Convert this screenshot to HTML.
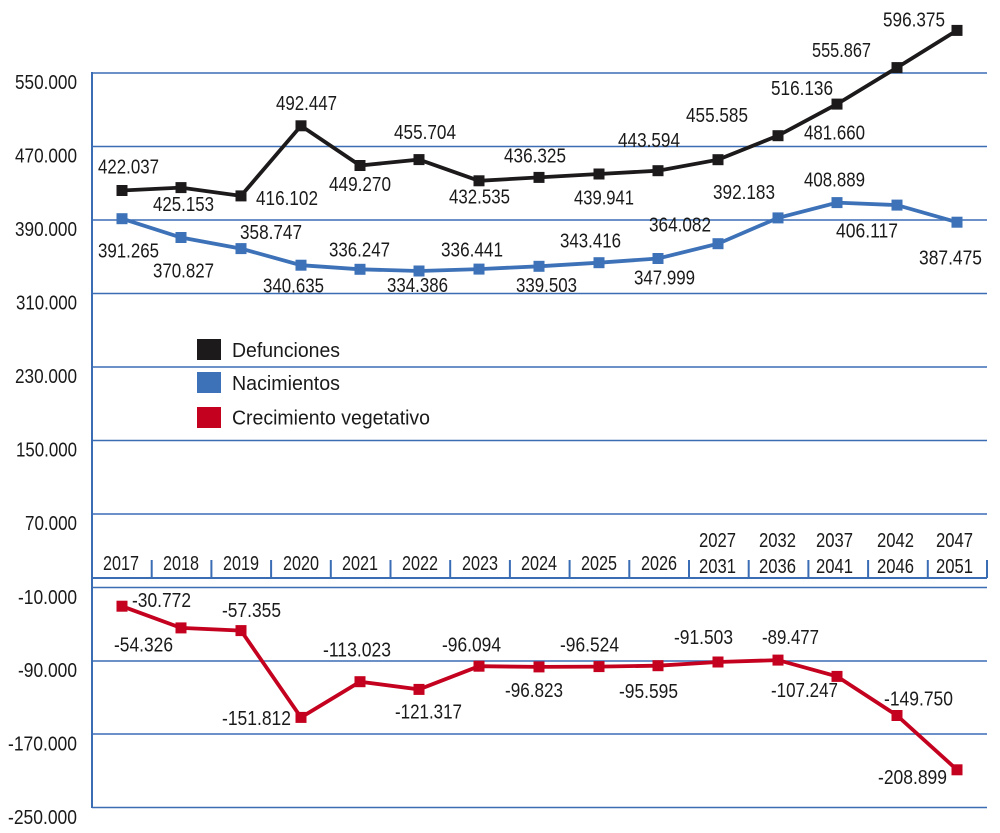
<!DOCTYPE html>
<html><head><meta charset="utf-8"><style>
html,body{margin:0;padding:0;background:#fff;}
svg{display:block;}
text{font-family:"Liberation Sans Narrow","Liberation Sans",sans-serif;font-size:20px;fill:#1a1a1a;}
</style></head><body>
<svg width="1000" height="833" viewBox="0 0 1000 833" xmlns="http://www.w3.org/2000/svg">
<g stroke="#3b6db5" stroke-width="1.6" fill="none">
<line x1="92" y1="73" x2="987" y2="73"/>
<line x1="92" y1="146.5" x2="987" y2="146.5"/>
<line x1="92" y1="220" x2="987" y2="220"/>
<line x1="92" y1="293.5" x2="987" y2="293.5"/>
<line x1="92" y1="367" x2="987" y2="367"/>
<line x1="92" y1="440.5" x2="987" y2="440.5"/>
<line x1="92" y1="514" x2="987" y2="514"/>
<line x1="92" y1="587.5" x2="987" y2="587.5"/>
<line x1="92" y1="661" x2="987" y2="661"/>
<line x1="92" y1="734" x2="987" y2="734"/>
<line x1="92" y1="807.5" x2="987" y2="807.5"/>
<line x1="92" y1="578" x2="987" y2="578" stroke-width="2"/>
<line x1="92" y1="72" x2="92" y2="808" stroke-width="2"/>
<path d="M151.7 560V578M211.4 560V578M271.1 560V578M330.8 560V578M390.5 560V578M450.2 560V578M509.9 560V578M569.6 560V578M629.3 560V578M689 560V578M748.7 560V578M808.4 560V578M868.1 560V578M927.8 560V578M987 560V578" stroke-width="2"/>
</g>

<!-- Y axis labels -->
<g>
<text x="15" y="89" textLength="62" lengthAdjust="spacingAndGlyphs">550.000</text>
<text x="15" y="162.5" textLength="62" lengthAdjust="spacingAndGlyphs">470.000</text>
<text x="15" y="236" textLength="62" lengthAdjust="spacingAndGlyphs">390.000</text>
<text x="16" y="309.5" textLength="61" lengthAdjust="spacingAndGlyphs">310.000</text>
<text x="15" y="383" textLength="62" lengthAdjust="spacingAndGlyphs">230.000</text>
<text x="16" y="456.5" textLength="61" lengthAdjust="spacingAndGlyphs">150.000</text>
<text x="25" y="530" textLength="52" lengthAdjust="spacingAndGlyphs">70.000</text>
<text x="18" y="604" textLength="59" lengthAdjust="spacingAndGlyphs">-10.000</text>
<text x="18" y="677" textLength="59" lengthAdjust="spacingAndGlyphs">-90.000</text>
<text x="8" y="750.5" textLength="69" lengthAdjust="spacingAndGlyphs">-170.000</text>
<text x="8" y="824" textLength="69" lengthAdjust="spacingAndGlyphs">-250.000</text>
</g>

<!-- Category labels -->
<g>
<text x="103" y="570" textLength="36" lengthAdjust="spacingAndGlyphs">2017</text>
<text x="163" y="570" textLength="36" lengthAdjust="spacingAndGlyphs">2018</text>
<text x="223" y="570" textLength="36" lengthAdjust="spacingAndGlyphs">2019</text>
<text x="283" y="570" textLength="36" lengthAdjust="spacingAndGlyphs">2020</text>
<text x="342" y="570" textLength="36" lengthAdjust="spacingAndGlyphs">2021</text>
<text x="402" y="570" textLength="36" lengthAdjust="spacingAndGlyphs">2022</text>
<text x="462" y="570" textLength="36" lengthAdjust="spacingAndGlyphs">2023</text>
<text x="521" y="570" textLength="36" lengthAdjust="spacingAndGlyphs">2024</text>
<text x="581" y="570" textLength="36" lengthAdjust="spacingAndGlyphs">2025</text>
<text x="641" y="570" textLength="36" lengthAdjust="spacingAndGlyphs">2026</text>
<text x="699" y="547" textLength="37" lengthAdjust="spacingAndGlyphs">2027</text>
<text x="699" y="573" textLength="37" lengthAdjust="spacingAndGlyphs">2031</text>
<text x="759" y="547" textLength="37" lengthAdjust="spacingAndGlyphs">2032</text>
<text x="759" y="573" textLength="37" lengthAdjust="spacingAndGlyphs">2036</text>
<text x="816" y="547" textLength="37" lengthAdjust="spacingAndGlyphs">2037</text>
<text x="816" y="573" textLength="37" lengthAdjust="spacingAndGlyphs">2041</text>
<text x="877" y="547" textLength="37" lengthAdjust="spacingAndGlyphs">2042</text>
<text x="877" y="573" textLength="37" lengthAdjust="spacingAndGlyphs">2046</text>
<text x="936" y="547" textLength="37" lengthAdjust="spacingAndGlyphs">2047</text>
<text x="936" y="573" textLength="37" lengthAdjust="spacingAndGlyphs">2051</text>
</g>

<!-- Series: Defunciones -->
<polyline fill="none" stroke="#1c1a1b" stroke-width="3.8" stroke-linejoin="miter" points="122,190.5 181,187.6 241,195.9 301,125.8 360,165.5 419,159.6 479,180.8 539,177.4 599,174 658,170.7 718,159.7 778,135.7 837,104.1 897,67.6 957,30.4"/>
<g fill="#1c1a1b">
<rect x="116.5" y="185" width="11" height="11"/>
<rect x="175.5" y="182.1" width="11" height="11"/>
<rect x="235.5" y="190.4" width="11" height="11"/>
<rect x="295.5" y="120.3" width="11" height="11"/>
<rect x="354.5" y="160" width="11" height="11"/>
<rect x="413.5" y="154.1" width="11" height="11"/>
<rect x="473.5" y="175.3" width="11" height="11"/>
<rect x="533.5" y="171.9" width="11" height="11"/>
<rect x="593.5" y="168.5" width="11" height="11"/>
<rect x="652.5" y="165.2" width="11" height="11"/>
<rect x="712.5" y="154.2" width="11" height="11"/>
<rect x="772.5" y="130.2" width="11" height="11"/>
<rect x="831.5" y="98.6" width="11" height="11"/>
<rect x="891.5" y="62.1" width="11" height="11"/>
<rect x="951.5" y="24.9" width="11" height="11"/>
</g>

<!-- Series: Nacimientos -->
<polyline fill="none" stroke="#3e72b8" stroke-width="3.8" points="122,218.7 181,237.5 241,248.6 301,265.2 360,269.3 419,271 479,269.1 539,266.3 599,262.7 658,258.5 718,243.7 778,217.9 837,202.6 897,205.1 957,222.2"/>
<g fill="#3e72b8">
<rect x="116.5" y="213.2" width="11" height="11"/>
<rect x="175.5" y="232" width="11" height="11"/>
<rect x="235.5" y="243.1" width="11" height="11"/>
<rect x="295.5" y="259.7" width="11" height="11"/>
<rect x="354.5" y="263.8" width="11" height="11"/>
<rect x="413.5" y="265.5" width="11" height="11"/>
<rect x="473.5" y="263.6" width="11" height="11"/>
<rect x="533.5" y="260.8" width="11" height="11"/>
<rect x="593.5" y="257.2" width="11" height="11"/>
<rect x="652.5" y="253" width="11" height="11"/>
<rect x="712.5" y="238.2" width="11" height="11"/>
<rect x="772.5" y="212.4" width="11" height="11"/>
<rect x="831.5" y="197.1" width="11" height="11"/>
<rect x="891.5" y="199.6" width="11" height="11"/>
<rect x="951.5" y="216.7" width="11" height="11"/>
</g>

<!-- Series: Crecimiento vegetativo -->
<polyline fill="none" stroke="#c4021f" stroke-width="3.8" points="122,606.2 181,627.9 241,630.6 301,717.4 360,681.7 419,689.4 479,666.2 539,666.9 599,666.6 658,665.7 718,662 778,660.1 837,676.4 897,715.5 957,769.8"/>
<g fill="#c4021f">
<rect x="116.5" y="600.7" width="11" height="11"/>
<rect x="175.5" y="622.4" width="11" height="11"/>
<rect x="235.5" y="625.1" width="11" height="11"/>
<rect x="295.5" y="711.9" width="11" height="11"/>
<rect x="354.5" y="676.2" width="11" height="11"/>
<rect x="413.5" y="683.9" width="11" height="11"/>
<rect x="473.5" y="660.7" width="11" height="11"/>
<rect x="533.5" y="661.4" width="11" height="11"/>
<rect x="593.5" y="661.1" width="11" height="11"/>
<rect x="652.5" y="660.2" width="11" height="11"/>
<rect x="712.5" y="656.5" width="11" height="11"/>
<rect x="772.5" y="654.6" width="11" height="11"/>
<rect x="831.5" y="670.9" width="11" height="11"/>
<rect x="891.5" y="710" width="11" height="11"/>
<rect x="951.5" y="764.3" width="11" height="11"/>
</g>

<!-- Data labels: Defunciones -->
<g>
<text x="98" y="173.5" textLength="61" lengthAdjust="spacingAndGlyphs">422.037</text>
<text x="153" y="211" textLength="61" lengthAdjust="spacingAndGlyphs">425.153</text>
<text x="256" y="205" textLength="62" lengthAdjust="spacingAndGlyphs">416.102</text>
<text x="276" y="110" textLength="61" lengthAdjust="spacingAndGlyphs">492.447</text>
<text x="329" y="191" textLength="62" lengthAdjust="spacingAndGlyphs">449.270</text>
<text x="394" y="139" textLength="62" lengthAdjust="spacingAndGlyphs">455.704</text>
<text x="449" y="203.5" textLength="61" lengthAdjust="spacingAndGlyphs">432.535</text>
<text x="504" y="162.5" textLength="62" lengthAdjust="spacingAndGlyphs">436.325</text>
<text x="574" y="204.5" textLength="60" lengthAdjust="spacingAndGlyphs">439.941</text>
<text x="618" y="147" textLength="62" lengthAdjust="spacingAndGlyphs">443.594</text>
<text x="686" y="122" textLength="62" lengthAdjust="spacingAndGlyphs">455.585</text>
<text x="771" y="95" textLength="62" lengthAdjust="spacingAndGlyphs">516.136</text>
<text x="804" y="139.5" textLength="61" lengthAdjust="spacingAndGlyphs">481.660</text>
<text x="812" y="57" textLength="59" lengthAdjust="spacingAndGlyphs">555.867</text>
<text x="883" y="26.5" textLength="62" lengthAdjust="spacingAndGlyphs">596.375</text>
</g>

<!-- Data labels: Nacimientos -->
<g>
<text x="98" y="257.5" textLength="61" lengthAdjust="spacingAndGlyphs">391.265</text>
<text x="153" y="277.5" textLength="61" lengthAdjust="spacingAndGlyphs">370.827</text>
<text x="240" y="239" textLength="62" lengthAdjust="spacingAndGlyphs">358.747</text>
<text x="263" y="292.5" textLength="61" lengthAdjust="spacingAndGlyphs">340.635</text>
<text x="329" y="256.5" textLength="61" lengthAdjust="spacingAndGlyphs">336.247</text>
<text x="387" y="292" textLength="61" lengthAdjust="spacingAndGlyphs">334.386</text>
<text x="441" y="256.5" textLength="62" lengthAdjust="spacingAndGlyphs">336.441</text>
<text x="516" y="292" textLength="61" lengthAdjust="spacingAndGlyphs">339.503</text>
<text x="560" y="247.5" textLength="61" lengthAdjust="spacingAndGlyphs">343.416</text>
<text x="634" y="284.5" textLength="61" lengthAdjust="spacingAndGlyphs">347.999</text>
<text x="649" y="231.5" textLength="62" lengthAdjust="spacingAndGlyphs">364.082</text>
<text x="713" y="199" textLength="62" lengthAdjust="spacingAndGlyphs">392.183</text>
<text x="804" y="186.5" textLength="61" lengthAdjust="spacingAndGlyphs">408.889</text>
<text x="836" y="237.5" textLength="62" lengthAdjust="spacingAndGlyphs">406.117</text>
<text x="919" y="264.5" textLength="63" lengthAdjust="spacingAndGlyphs">387.475</text>
</g>

<!-- Data labels: Crecimiento -->
<g>
<text x="132" y="607" textLength="59" lengthAdjust="spacingAndGlyphs">-30.772</text>
<text x="114" y="651.5" textLength="59" lengthAdjust="spacingAndGlyphs">-54.326</text>
<text x="222" y="617" textLength="59" lengthAdjust="spacingAndGlyphs">-57.355</text>
<text x="222" y="725" textLength="69" lengthAdjust="spacingAndGlyphs">-151.812</text>
<text x="323" y="656.5" textLength="68" lengthAdjust="spacingAndGlyphs">-113.023</text>
<text x="395" y="718.5" textLength="67" lengthAdjust="spacingAndGlyphs">-121.317</text>
<text x="442" y="651.5" textLength="59" lengthAdjust="spacingAndGlyphs">-96.094</text>
<text x="505" y="697" textLength="58" lengthAdjust="spacingAndGlyphs">-96.823</text>
<text x="560" y="651.5" textLength="59" lengthAdjust="spacingAndGlyphs">-96.524</text>
<text x="619" y="698" textLength="59" lengthAdjust="spacingAndGlyphs">-95.595</text>
<text x="674" y="644" textLength="59" lengthAdjust="spacingAndGlyphs">-91.503</text>
<text x="762" y="644" textLength="57" lengthAdjust="spacingAndGlyphs">-89.477</text>
<text x="771" y="697" textLength="67" lengthAdjust="spacingAndGlyphs">-107.247</text>
<text x="884" y="705.5" textLength="69" lengthAdjust="spacingAndGlyphs">-149.750</text>
<text x="878" y="784" textLength="69" lengthAdjust="spacingAndGlyphs">-208.899</text>
</g>

<!-- Legend -->
<rect x="197" y="339" width="24" height="21" fill="#1c1a1b"/>
<rect x="197" y="372" width="24" height="21" fill="#3e72b8"/>
<rect x="197" y="407" width="24" height="21" fill="#c4021f"/>
<text x="232" y="357" textLength="108" lengthAdjust="spacingAndGlyphs">Defunciones</text>
<text x="232" y="390" textLength="108" lengthAdjust="spacingAndGlyphs">Nacimientos</text>
<text x="232" y="424.5" textLength="198" lengthAdjust="spacingAndGlyphs">Crecimiento vegetativo</text>
</svg>
</body></html>
